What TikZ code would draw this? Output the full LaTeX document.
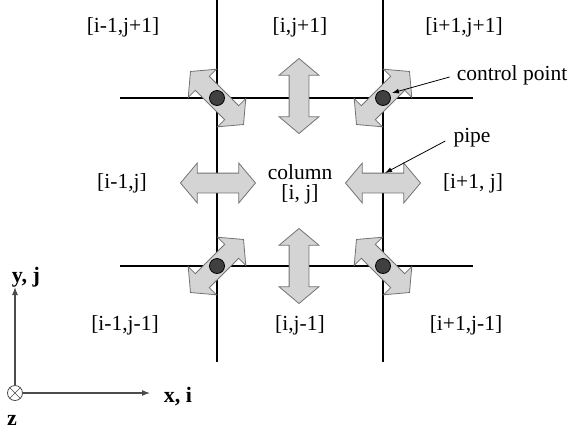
\documentclass[tikz,border=0pt]{standalone}
\usepackage{fontspec}
\setmainfont{Liberation Serif}
\usetikzlibrary{shapes.arrows,arrows.meta}
\begin{document}
\begin{tikzpicture}[x=1pt,y=-1pt,
  gridline/.style={line width=2.4pt,black},
  pipearrow/.style={double arrow, draw=black!55, fill=black!17, line width=0.8pt,
    minimum height=75pt, minimum width=0pt, inner sep=9.5pt,
    double arrow head extend=10pt, double arrow tip angle=100},
  ctrl/.style={circle, draw=black, fill=black!75, line width=0.8pt, minimum size=15pt, inner sep=0pt},
  lab/.style={font=\fontsize{21.5}{24}\selectfont, inner sep=0pt},
  axlab/.style={font=\fontsize{22}{24}\selectfont\bfseries, inner sep=0pt},
  ann/.style={-{Latex[length=7pt,width=5pt]}, line width=0.8pt},
  axis/.style={-{Latex[length=8pt,width=6pt]}, line width=1.1pt, black!70}
]
\useasboundingbox (0,0) rectangle (569,429);
% grid
\coordinate (v1t) at (217,0);  \coordinate (v1b) at (217,362);
\coordinate (v2t) at (383,0);  \coordinate (v2b) at (383,362);
\coordinate (h1l) at (120,98); \coordinate (h1r) at (473,98);
\coordinate (h2l) at (120,266); \coordinate (h2r) at (473,266);
\draw[gridline] (v1t) -- (v1b);
\draw[gridline] (v2t) -- (v2b);
\draw[gridline] (h1l) -- (h1r);
\draw[gridline] (h2l) -- (h2r);
% pipes
\node[pipearrow, rotate=90] (aT) at (299,96) {};
\node[pipearrow, rotate=90] (aB) at (299,266) {};
\node[pipearrow] (aL) at (218,183) {};
\node[pipearrow] (aR) at (383,183) {};
\node[pipearrow, rotate=-45] (aTL) at (217,98) {};
\node[pipearrow, rotate=45] (aTR) at (383,98) {};
\node[pipearrow, rotate=45] (aBL) at (217,266) {};
\node[pipearrow, rotate=-45] (aBR) at (383,266) {};
% control points
\node[ctrl] (cTL) at (217,98) {};
\node[ctrl] (cTR) at (383,98) {};
\node[ctrl] (cBL) at (217,266) {};
\node[ctrl] (cBR) at (383,266) {};
% cell labels
\node[lab] (l1) at (123,27) {[i-1,j+1]};
\node[lab] (l2) at (300,27) {[i,j+1]};
\node[lab] (l3) at (464,27) {[i+1,j+1]};
\node[lab] (l4) at (122,183) {[i-1,j]};
\node[lab, align=center] (l5) at (300,184) {column\\[-4pt][i, j]};
\node[lab] (l6) at (473,183) {[i+1, j]};
\node[lab] (l7) at (125,325) {[i-1,j-1]};
\node[lab] (l8) at (300,325) {[i,j-1]};
\node[lab] (l9) at (466,325) {[i+1,j-1]};
% annotations
\node[lab] (ctrlLab) at (512,75) {control point};
\node[lab] (pipeLab) at (472,138) {pipe};
\coordinate (ctrlTip) at (392,93);
\coordinate (pipeTip) at (385,173);
\draw[ann] ([xshift=-7pt,yshift=-2pt]ctrlLab.west) -- (ctrlTip);
\draw[ann] ([xshift=-8pt,yshift=-3pt]pipeLab.west) -- (pipeTip);
% axes
\node[circle, draw=black!70, line width=0.8pt, minimum size=15pt, inner sep=0pt] (o) at (15,393) {};
\draw[black!70, line width=0.6pt] (o.north west) -- (o.south east) (o.north east) -- (o.south west);
\coordinate (yTip) at (15,287);
\coordinate (xTip) at (150,393);
\draw[axis] (o.north) -- (yTip);
\draw[axis] (o.east) -- (xTip);
\node[axlab] (ylab) at (26,277) {y, j};
\node[axlab] (xlab) at (178,397) {x, i};
\node[axlab] (zlab) at (12,420) {z};
\end{tikzpicture}
\end{document}
